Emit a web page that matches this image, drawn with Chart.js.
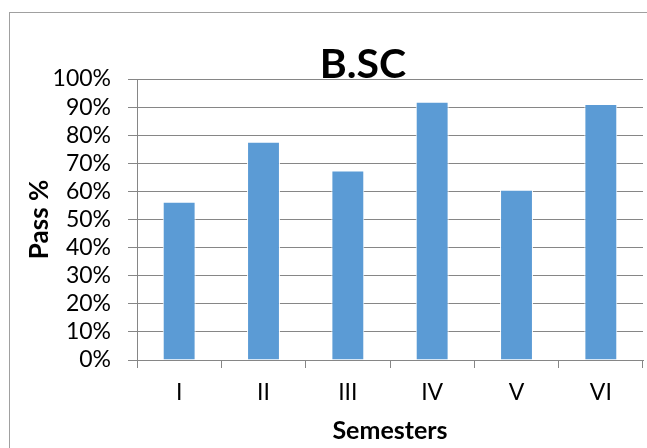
<!DOCTYPE html>
<html>
<head>
<meta charset="utf-8">
<script src="https://cdn.jsdelivr.net/npm/chart.js@4/dist/chart.umd.min.js"></script>
<style>
  html, body { margin: 0; padding: 0; background: #ffffff; overflow: hidden; }
  #wrap { position: relative; width: 647px; height: 448px; }
  #frame { position: absolute; left: 9px; top: 12px; width: 700px; height: 500px; border: 1px solid #a0a0a0; box-sizing: border-box; }
  #c { position: absolute; left: 0; top: 0; }
</style>
</head>
<body>
<div id="wrap">
  <div id="frame"></div>
  <canvas id="c" width="647" height="448"></canvas>
</div>
<script>
const chartTitle = "B.SC";
const semesters = ["I", "II", "III", "IV", "V", "VI"];
const passPercent = [56.3, 77.7, 67.4, 91.9, 60.6, 91.1];
const yTitle = "Pass %";
const xTitle = "Semesters";

const FONT = "Lato";

const titlePlugin = {
  id: "overlayTitle",
  afterDraw(chart) {
    const ctx = chart.ctx;
    ctx.save();
    ctx.font = "bold 41px " + FONT;
    ctx.fillStyle = "#000";
    ctx.textAlign = "center";
    ctx.textBaseline = "alphabetic";
    ctx.fillText(chartTitle, 363, 78);
    ctx.restore();
  }
};

new Chart(document.getElementById("c"), {
  type: "bar",
  data: {
    labels: semesters,
    datasets: [{
      data: passPercent,
      backgroundColor: "#5B9BD5",
      borderColor: "#ffffff",
      borderWidth: 1,
      categoryPercentage: 1,
      barPercentage: 0.39
    }]
  },
  options: {
    responsive: false,
    animation: false,
    devicePixelRatio: 1,
    layout: { padding: { left: 20, top: 79, right: 4, bottom: 0 } },
    plugins: { legend: { display: false }, tooltip: { enabled: false }, title: { display: false } },
    scales: {
      x: {
        grid: { offset: true, drawOnChartArea: false, drawTicks: true, tickLength: 8, color: "#868686", lineWidth: 1 },
        border: { display: true, color: "#868686", width: 1 },
        ticks: { color: "#000", font: { family: FONT, size: 23 }, padding: 11, autoSkip: false, maxRotation: 0 },
        title: { display: true, text: xTitle, color: "#000", font: { family: FONT, size: 25, weight: "bold" }, padding: { top: 0, bottom: 2 } },
        afterFit(scale) { scale.height = 88; }
      },
      y: {
        min: 0, max: 100,
        ticks: { stepSize: 10, autoSkip: false, color: "#000", font: { family: FONT, size: 23 }, padding: 17, callback: v => v + "%" },
        grid: { color: "#868686", lineWidth: 1, drawTicks: true, tickLength: 9 },
        border: { display: true, color: "#868686", width: 1 },
        title: { display: true, text: yTitle, color: "#000", font: { family: FONT, size: 26, weight: "bold" }, padding: { top: 4, bottom: 0 } },
        afterFit(scale) { scale.width = 117; }
      }
    }
  },
  plugins: [titlePlugin]
});
</script>
</body>
</html>
